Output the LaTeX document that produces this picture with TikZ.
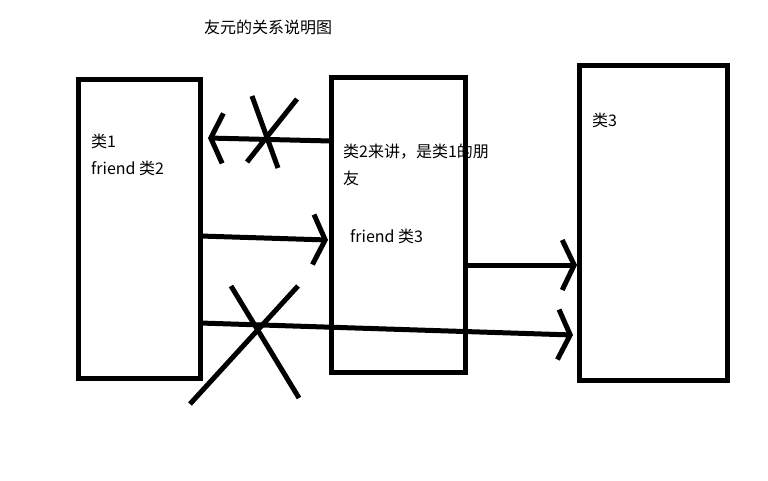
\documentclass[tikz,border=0pt]{standalone}
\usepackage{fontspec}
\setmainfont{Noto Sans CJK SC}
\usepackage{tikz}
\usetikzlibrary{arrows.meta}

\tikzset{
  classbox/.style={draw, line width=5pt, inner sep=0pt, outer sep=0pt},
  label/.style={anchor=west, inner sep=0pt, font=\fontsize{16}{19}\selectfont},
  link/.style={line width=5pt, -{Straight Barb[length=12pt, width=50pt, line width=5pt]}},
  cross/.style={line width=5pt}
}

\begin{document}
\begin{tikzpicture}[x=1pt, y=-1pt]
	\useasboundingbox (0,0) rectangle (768,480);
	\node[label] (title) at (204,27) {友元的关系说明图};
	\node[classbox, minimum width=122pt, minimum height=299pt] (c1) at (139,228.5) {};
	\node[classbox, minimum width=134pt, minimum height=295pt] (c2) at (398,224.5) {};
	\node[classbox, minimum width=148pt, minimum height=315pt] (c3) at (653,222.5) {};
	\node[label] (c1name) at (91,141) {类1};
	\node[label] (c1friend) at (91,168) {friend 类2};
	\node[label] (c2note) at (343,152) {类2来讲，是类1的朋};
	\node[label] (c2note2) at (343,178) {友};
	\node[label] (c2friend) at (350,236) {friend 类3};
	\node[label] (c3name) at (592,120) {类3};
	\coordinate (t21) at (208,138);
	\coordinate (t12) at (328,240);
	\coordinate (t23) at (577,265);
	\coordinate (t13) at (573,335);
	\draw[link] (c2.west |- 0,141) -- (t21);
	\draw[link] (c1.east |- 0,236) -- (t12);
	\draw[link] (c2.east |- 0,265) -- (t23);
	\draw[link] (c1.east |- 0,323) -- (t13);
	\draw[cross] (252,96) -- (278,168);
	\draw[cross] (297,99) -- (247,162);
	\draw[cross] (190,404) -- (298,286);
	\draw[cross] (231,286) -- (299,398);
\end{tikzpicture}
\end{document}
